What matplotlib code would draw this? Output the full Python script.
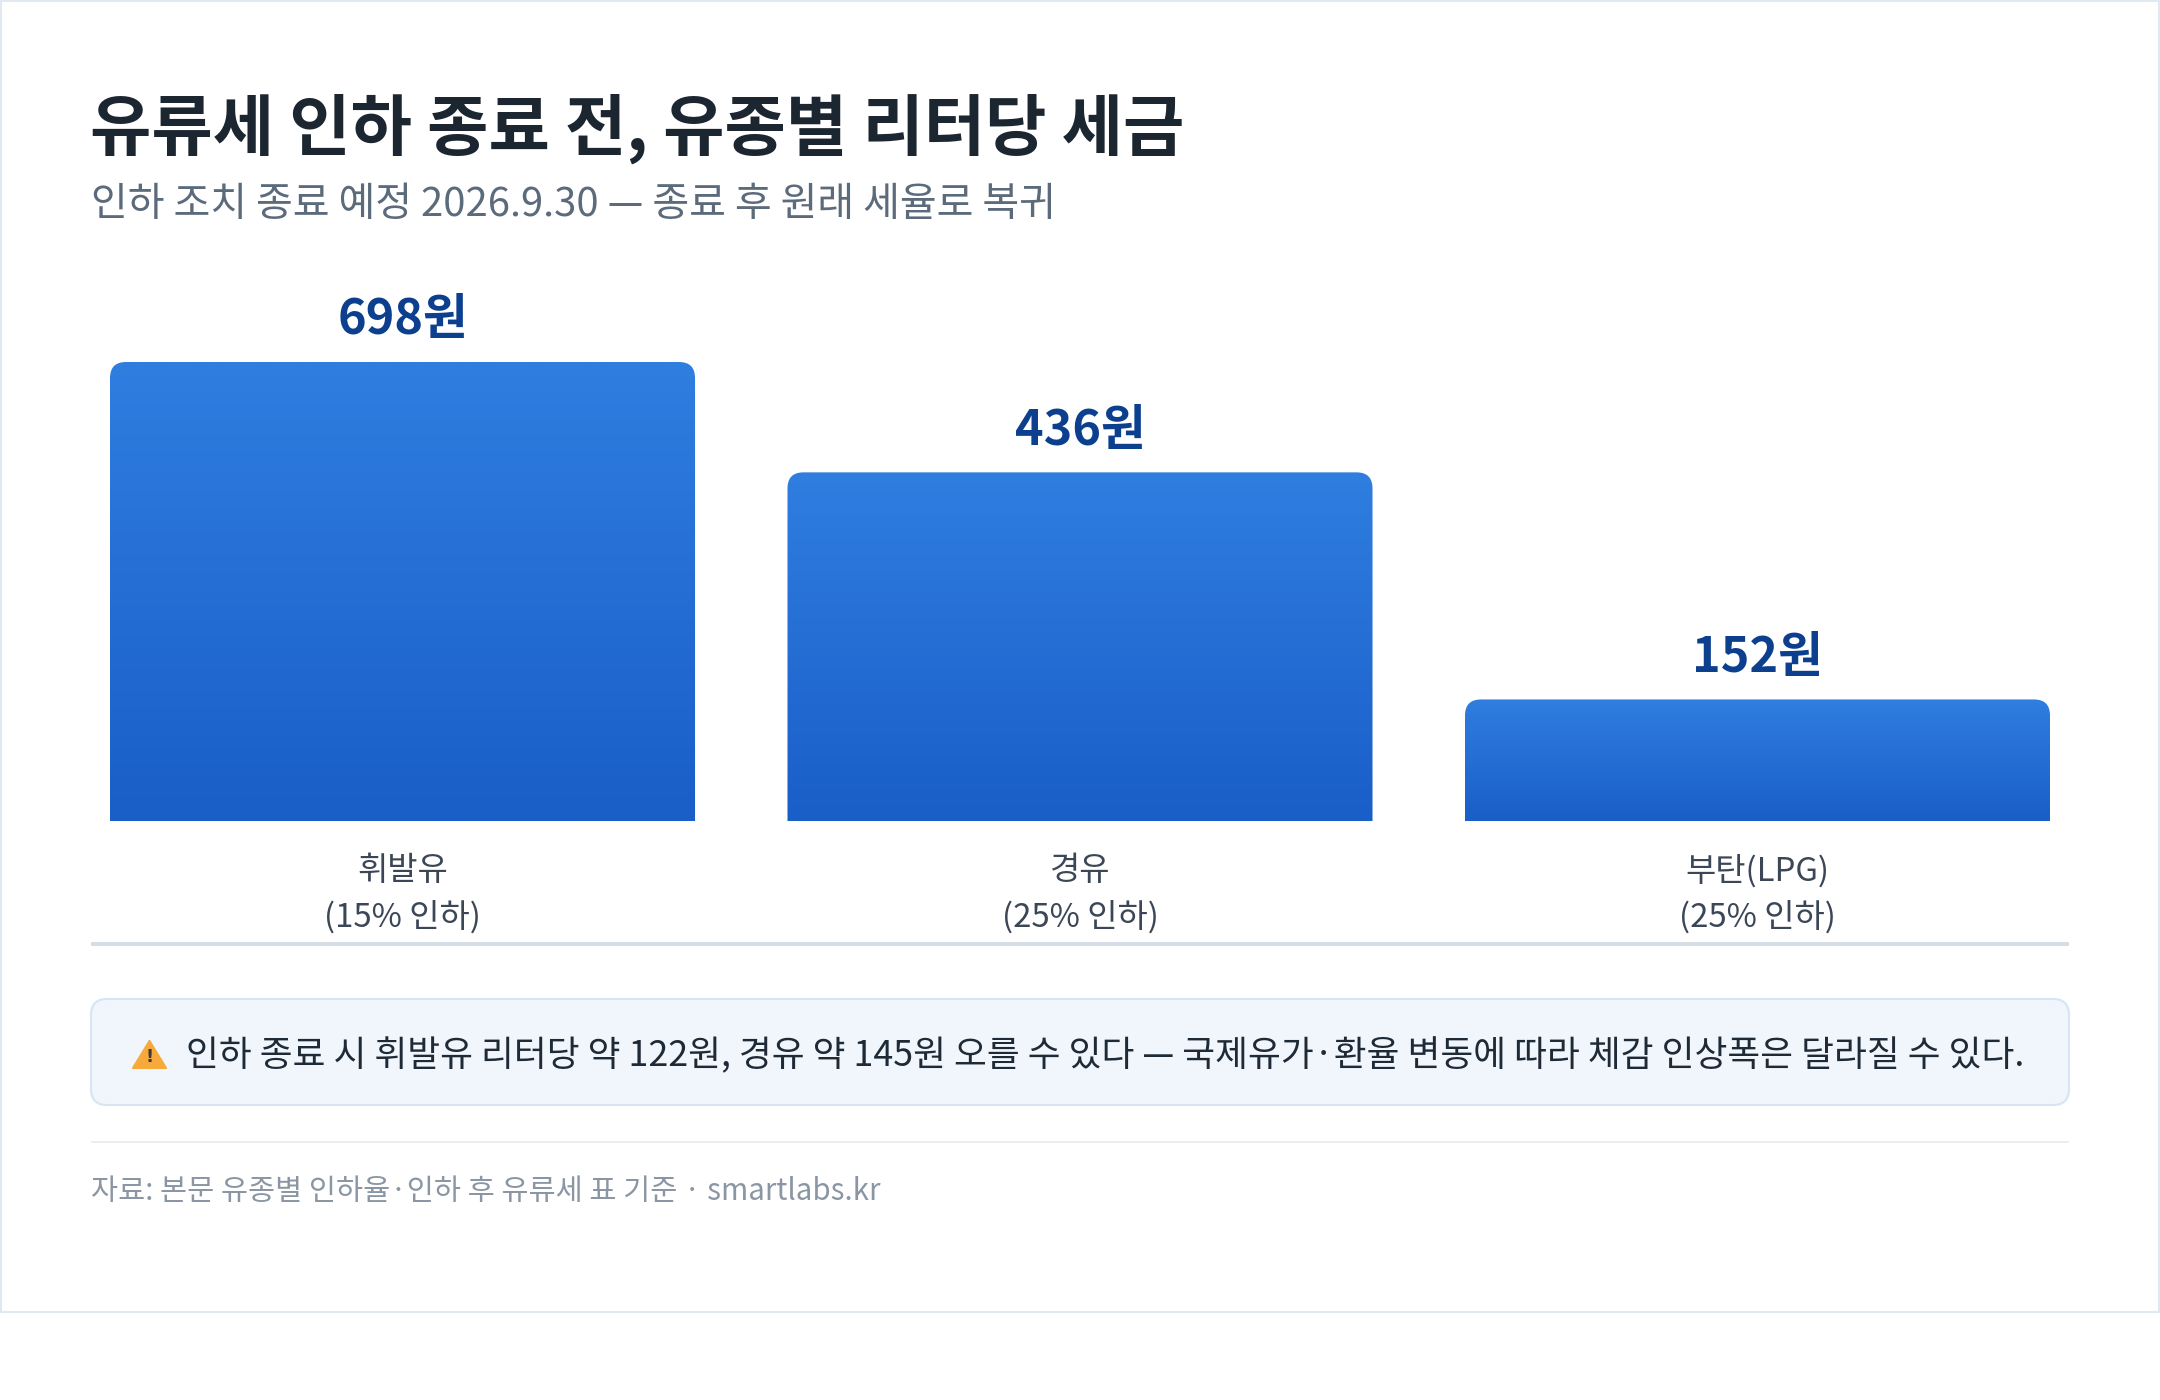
import numpy as np
import matplotlib
matplotlib.use('Agg')
import matplotlib.pyplot as plt
from matplotlib.patches import FancyBboxPatch, Rectangle, Polygon
from matplotlib.colors import LinearSegmentedColormap

plt.rcParams['font.family'] = ['Noto Sans CJK KR', 'DejaVu Sans']

# 데이터
categories = ['휘발유', '경유', '부탄(LPG)']
cut_rates = ['(15% 인하)', '(25% 인하)', '(25% 인하)']
tax_per_liter = [698, 436, 152]
value_labels = ['{}원'.format(v) for v in tax_per_liter]

title = '유류세 인하 종료 전, 유종별 리터당 세금'
subtitle = '인하 조치 종료 예정 2026.9.30 — 종료 후 원래 세율로 복귀'
note = ('인하 종료 시 휘발유 리터당 약 122원, 경유 약 145원 오를 수 있다 — '
        '국제유가·환율 변동에 따라 체감 인상폭은 달라질 수 있다.')
source = '자료: 본문 유종별 인하율·인하 후 유류세 표 기준 · smartlabs.kr'

W, H = 2160, 1400
fig = plt.figure(figsize=(W / 100, H / 100), dpi=100)
fig.patch.set_facecolor('white')

# 픽셀 좌표용 배경 축
bg = fig.add_axes([0, 0, 1, 1])
bg.set_xlim(0, W)
bg.set_ylim(H, 0)
bg.axis('off')

# 카드 테두리
bg.add_patch(Rectangle((1, 1), W - 2, 1311, fill=False, edgecolor='#e2e8f0', linewidth=1.5))

# 제목
bg.text(90, 129, title, fontsize=48, fontweight='bold', color='#1b2631', va='center')
bg.text(91, 205, subtitle, fontsize=28.8, color='#5c6b7b', va='center')

# 막대 축
ax = fig.add_axes([110 / W, 1 - 821 / H, 1940 / W, 459 / H])
ax.axis('off')
width = 0.8635
x = np.arange(len(categories))
y_top = 574
shown = np.minimum(tax_per_liter, y_top)

px_x = 1940 / (len(categories) - 1 + width)
px_y = 459 / y_top
rx = 16 / px_x
ry = 16 / px_y

grad = np.linspace(0, 1, 256).reshape(-1, 1)
cmap = LinearSegmentedColormap.from_list('bar', ['#1a5ec8', '#2f7ee0'])

for xi, h, lbl, cat, rate in zip(x, shown, value_labels, categories, cut_rates):
    x0 = xi - width / 2
    patch = FancyBboxPatch((x0, -ry), width, h + ry,
                           boxstyle='round,pad=0,rounding_size={}'.format(rx),
                           mutation_aspect=ry / rx, facecolor='none', edgecolor='none')
    ax.add_patch(patch)
    im = ax.imshow(grad, extent=(x0, x0 + width, 0, h), origin='lower',
                   aspect='auto', cmap=cmap, zorder=2)
    im.set_clip_path(patch)
    ax.annotate(lbl, (xi, h), xytext=(0, 42 * 0.72), textcoords='offset points',
                ha='center', va='center', fontsize=35, fontweight='bold',
                color='#0d3f8f', annotation_clip=False)
    ax.annotate(cat, (xi, 0), xytext=(0, -50 * 0.72), textcoords='offset points',
                ha='center', va='center', fontsize=23.7, color='#3b4757',
                annotation_clip=False)
    ax.annotate(rate, (xi, 0), xytext=(0, -96 * 0.72), textcoords='offset points',
                ha='center', va='center', fontsize=23.7, color='#3b4757',
                annotation_clip=False)

ax.set_xlim(-width / 2, len(categories) - 1 + width / 2)
ax.set_ylim(0, y_top)

# 기준선
bg.add_patch(Rectangle((91, 942), 1978, 4, color='#d5dde6', linewidth=0))

# 안내 박스
bg.add_patch(FancyBboxPatch((91, 999), 1978, 106, boxstyle='round,pad=0,rounding_size=16',
                            facecolor='#f1f6fc', edgecolor='#d7e4f3', linewidth=1.5))
bg.add_patch(Polygon([(133, 1068), (149.5, 1041), (166, 1068)], closed=True,
                     facecolor='#f7a93c', edgecolor='#f7a93c', linewidth=1.5, joinstyle='round'))
bg.text(149.5, 1057, '!', fontsize=13, fontweight='bold', color='#3a3a3a',
        ha='center', va='center', family='DejaVu Sans')
bg.text(186, 1056, note, fontsize=25.7, color='#1f2a37', va='center')

# 구분선과 출처
bg.add_patch(Rectangle((91, 1141), 1978, 2, color='#e9eef3', linewidth=0))
bg.text(91, 1192, source, fontsize=21.2, color='#8a96a3', va='center')

fig.savefig('out.png', dpi=100, facecolor='white')
